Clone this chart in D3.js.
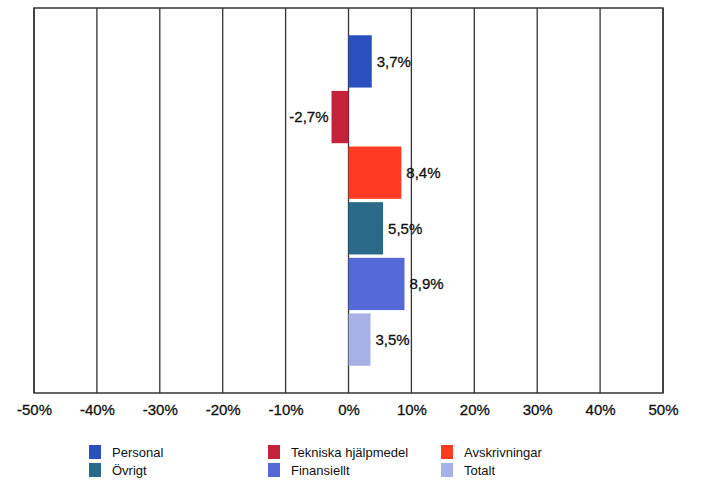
<!DOCTYPE html>
<html>
<head>
<meta charset="utf-8">
<script src="https://cdn.jsdelivr.net/npm/d3@7"></script>
<style>
  body { margin: 0; background: #fff; }
  text { font-family: "Liberation Sans", Arial, sans-serif; fill: #111; }
</style>
</head>
<body>
<div id="chart"></div>
<script>
// Series (one bar each) and their values in percent
var seriesNames = ['Personal', 'Tekniska hjälpmedel', 'Avskrivningar', 'Övrigt', 'Finansiellt', 'Totalt']
var seriesValues = [3.7, -2.7, 8.4, 5.5, 8.9, 3.5]
var seriesLabels = ['3,7%', '-2,7%', '8,4%', '5,5%', '8,9%', '3,5%']
var tickValues = [-50, -40, -30, -20, -10, 0, 10, 20, 30, 40, 50]
// Legend order as it appears (column by column)
var legendOrder = ['Personal', 'Övrigt', 'Tekniska hjälpmedel', 'Finansiellt', 'Avskrivningar', 'Totalt']

var colors = {
  'Personal': '#2a50c0',
  'Tekniska hjälpmedel': '#c4213a',
  'Avskrivningar': '#ff3a22',
  'Övrigt': '#2a6a88',
  'Finansiellt': '#5468d8',
  'Totalt': '#a8b0e8'
}

var width = 706
var height = 484
var plot = { left: 34, right: 663, top: 8, bottom: 393 }

var svg = d3.select('#chart').append('svg')
  .attr('width', width)
  .attr('height', height)

// Scales
var xScale = d3.scaleLinear()
  .domain([-50, 50])
  .range([plot.left, plot.right])

var yScale = d3.scaleBand()
  .domain(seriesNames)
  .range([plot.top, plot.bottom])
  .paddingInner(0.06)
  .paddingOuter(0.49)

// Vertical gridlines
svg.append('g')
  .selectAll('line')
  .data(tickValues)
  .enter().append('line')
  .attr('x1', function (d) { return xScale(d) })
  .attr('x2', function (d) { return xScale(d) })
  .attr('y1', plot.top)
  .attr('y2', plot.bottom)
  .style('stroke', '#333')
  .style('stroke-width', '1.3px')

// Plot border
svg.append('rect')
  .attr('x', plot.left)
  .attr('y', plot.top)
  .attr('width', plot.right - plot.left)
  .attr('height', plot.bottom - plot.top)
  .style('fill', 'none')
  .style('stroke', '#333')
  .style('stroke-width', '1.5px')

// Bars
svg.append('g')
  .selectAll('rect')
  .data(seriesNames)
  .enter().append('rect')
  .attr('x', function (d, i) { return xScale(Math.min(0, seriesValues[i])) })
  .attr('y', function (d) { return yScale(d) })
  .attr('width', function (d, i) { return Math.abs(xScale(seriesValues[i]) - xScale(0)) })
  .attr('height', yScale.bandwidth())
  .style('fill', function (d) { return colors[d] })

// Value labels
svg.append('g')
  .selectAll('text')
  .data(seriesNames)
  .enter().append('text')
  .attr('x', function (d, i) { return xScale(seriesValues[i]) + (seriesValues[i] < 0 ? -3 : 5) })
  .attr('y', function (d) { return yScale(d) + yScale.bandwidth() / 2 })
  .attr('dy', '.35em')
  .attr('text-anchor', function (d, i) { return seriesValues[i] < 0 ? 'end' : 'start' })
  .style('font-size', '15px')
  .style('stroke', '#111')
  .style('stroke-width', '0.3px')
  .text(function (d, i) { return seriesLabels[i] })

// X axis tick labels
var xAxis = d3.axisBottom(xScale)
  .tickValues(tickValues)
  .tickSize(0)
  .tickPadding(11)
  .tickFormat(function (d) { return d + '%' })

var axisG = svg.append('g')
  .attr('transform', 'translate(0,' + plot.bottom + ')')
  .call(xAxis)
axisG.select('.domain').remove()
axisG.selectAll('text')
  .style('font-size', '15px')
  .style('font-family', '"Liberation Sans", Arial, sans-serif')
  .style('fill', '#111')
  .style('stroke', '#111')
  .style('stroke-width', '0.3px')

// Legend
var legendCols = [89, 268, 441]
var legendRows = [452, 470]

var legend = svg.append('g')
  .selectAll('g')
  .data(legendOrder)
  .enter().append('g')
  .attr('transform', function (d, i) {
    return 'translate(' + legendCols[Math.floor(i / 2)] + ',' + legendRows[i % 2] + ')'
  })

legend.append('rect')
  .attr('x', 0)
  .attr('y', -7)
  .attr('width', 12)
  .attr('height', 14)
  .style('fill', function (d) { return colors[d] })

legend.append('text')
  .attr('x', 23)
  .attr('y', 0)
  .attr('dy', '.35em')
  .style('font-size', '13px')
  .text(function (d) { return d })
</script>
</body>
</html>
